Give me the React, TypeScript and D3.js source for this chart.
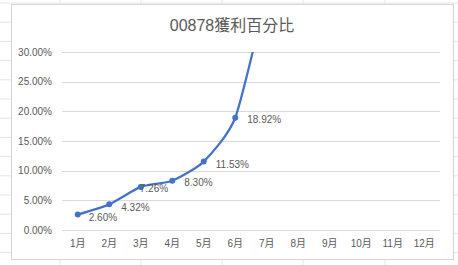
import React from "react";
import * as d3 from "d3";

const months = ["1月", "2月", "3月", "4月", "5月", "6月", "7月", "8月", "9月", "10月", "11月", "12月"];
const profitPct: (number | null)[] = [2.6, 4.32, 7.26, 8.3, 11.53, 18.92, 40, null, null, null, null, null];
const labelTexts = ["2.60%", "4.32%", "7.26%", "8.30%", "11.53%", "18.92%"];
const yTicks = [0, 5, 10, 15, 20, 25, 30];
const title = "00878獲利百分比";

const W = 458;
const H = 265;
const FONT = "'Liberation Sans', 'Noto Sans CJK TC', sans-serif";
const TEXT = "#595959";

export default function App() {
  const plotL = 62, plotR = 440, plotT = 52, plotB = 230;
  const x = d3.scaleBand<string>().domain(months).range([plotL, plotR]);
  const y = d3.scaleLinear().domain([0, 30]).range([plotB, plotT]);
  const cx = (m: string) => (x(m) ?? 0) + x.bandwidth() / 2;

  const pts = months
    .map((m, i) => ({ m, v: profitPct[i] }))
    .filter((d) => d.v !== null) as { m: string; v: number }[];

  const line = d3
    .line<{ m: string; v: number }>()
    .x((d) => cx(d.m))
    .y((d) => y(d.v))
    .curve(d3.curveCardinal.tension(0.4));

  const rows = d3.range(0, 14).map((k) => 3 + k * 19.2);
  const cols = [60, 141, 222, 303, 385];

  const labelOffsets = [
    { dx: 11, dy: 3 },
    { dx: 12, dy: 3 },
    { dx: -1, dy: 2 },
    { dx: 12, dy: 2 },
    { dx: 12, dy: 3 },
    { dx: 12, dy: 2 },
  ];

  return (
    <svg width={W} height={H} style={{ position: "absolute", left: 0, top: 0 }}>
      <rect x={0} y={0} width={W} height={H} fill="#ffffff" />
      {rows.map((r, i) => (
        <line key={"r" + i} x1={0} x2={W} y1={r} y2={r} stroke="#e4e4e4" strokeWidth={1} />
      ))}
      {cols.map((c, i) => (
        <line key={"c" + i} x1={c} x2={c} y1={0} y2={H} stroke="#e4e4e4" strokeWidth={1} />
      ))}
      <rect x={11.5} y={4.5} width={442} height={255} fill="#ffffff" stroke="#d4d4d4" strokeWidth={1} />
      <defs>
        <clipPath id="plotclip">
          <rect x={plotL - 10} y={plotT} width={plotR - plotL + 20} height={plotB - plotT + 20} />
        </clipPath>
      </defs>
      <text x={232} y={31} textAnchor="middle" fontFamily={FONT} fontSize={16} fill={TEXT}>
        {title}
      </text>
      {yTicks.map((t) => (
        <g key={t}>
          <line x1={plotL} x2={plotR} y1={Math.round(y(t)) + 0.5} y2={Math.round(y(t)) + 0.5} stroke="#d9d9d9" strokeWidth={1} />
          <text x={52} y={y(t) + 3.5} textAnchor="end" fontFamily={FONT} fontSize={10} fill={TEXT}>
            {t.toFixed(2) + "%"}
          </text>
        </g>
      ))}
      {months.map((m) => (
        <text key={m} x={cx(m)} y={247} textAnchor="middle" fontFamily={FONT} fontSize={10} fill={TEXT}>
          {m}
        </text>
      ))}
      <g clipPath="url(#plotclip)">
        <path d={line(pts) ?? ""} fill="none" stroke="#4472c4" strokeWidth={2.25} strokeLinejoin="round" />
        {pts.map((d) => (
          <circle key={d.m} cx={cx(d.m)} cy={y(d.v)} r={3} fill="#4472c4" />
        ))}
      </g>
      {labelTexts.map((t, i) => (
        <text
          key={t}
          x={cx(months[i]) + labelOffsets[i].dx}
          y={y(profitPct[i] as number) + labelOffsets[i].dy + 3.5}
          fontFamily={FONT}
          fontSize={10}
          fill={TEXT}
        >
          {t}
        </text>
      ))}
    </svg>
  );
}
